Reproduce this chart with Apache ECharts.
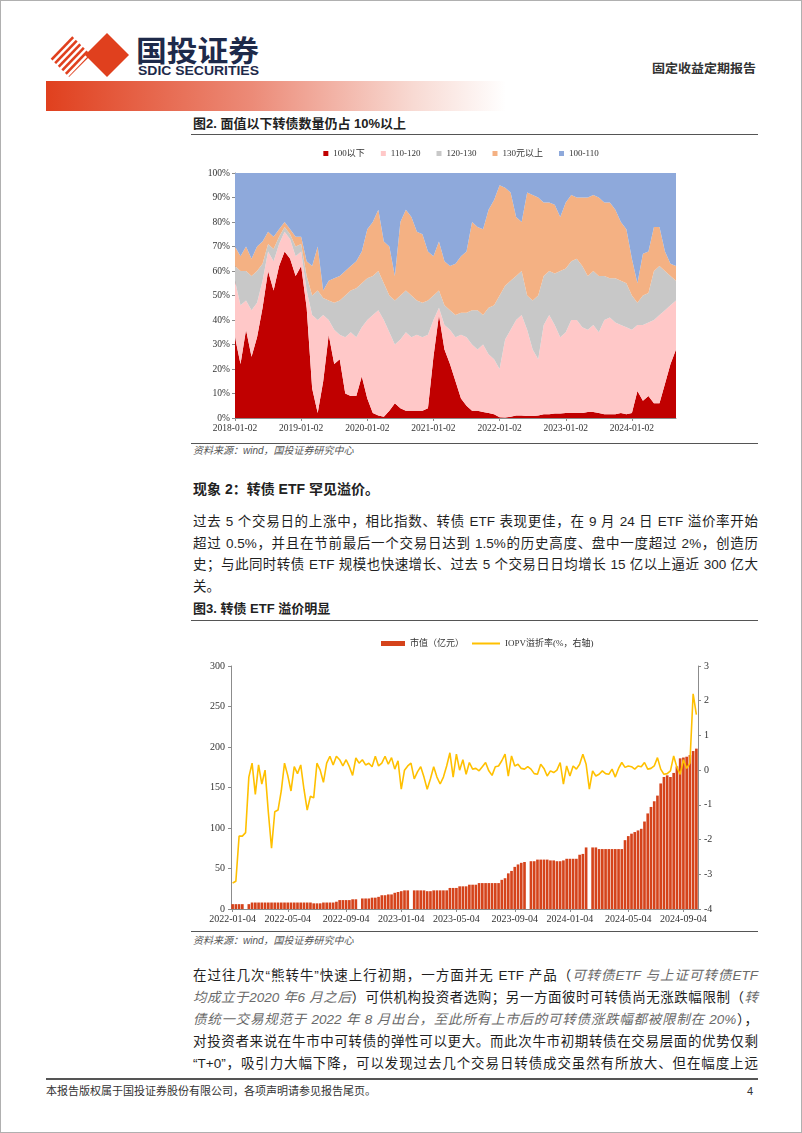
<!DOCTYPE html>
<html><head><meta charset="utf-8">
<script src="https://cdn.jsdelivr.net/npm/echarts@6/dist/echarts.min.js"></script>
<style>
html,body{margin:0;padding:0;background:#fff;}
#page{position:relative;width:802px;height:1133px;overflow:hidden;font-family:'Liberation Sans','Noto Sans CJK SC',sans-serif;color:#1f1f1f;box-sizing:border-box;border:1px solid #b0b0b0;}
.abs{position:absolute;white-space:nowrap;}
.ln{position:absolute;left:192px;width:565px;height:20px;line-height:20px;font-size:13.5px;text-align:justify;text-align-last:justify;white-space:nowrap;color:#1f1f1f;}
.it{font-style:italic;color:#6a6a6a;}
.rule{position:absolute;left:190px;width:567px;height:0;border-top:1.3px solid #555;}
.ttl{position:absolute;left:192px;font-size:13px;font-weight:bold;line-height:16px;color:#222;white-space:nowrap;}
.src{position:absolute;left:192px;font-size:10px;font-style:italic;color:#555;line-height:14px;white-space:nowrap;}
</style></head>
<body><div id="page">
<svg class="abs" style="left:0;top:0" width="802" height="115">
  <defs>
    <linearGradient id="gb" x1="0" x2="1" y1="0" y2="0">
      <stop offset="0" stop-color="#E0401E"/>
      <stop offset="0.45" stop-color="#EC8B78"/>
      <stop offset="0.8" stop-color="#F8DAD3"/>
      <stop offset="1" stop-color="#FFFFFF"/>
    </linearGradient>
    <clipPath id="cl"><polygon points="46,54 68,32 90,54 68,76"/></clipPath>
  </defs>
  <g clip-path="url(#cl)" stroke="#E0401E" stroke-width="2.6">
    <line x1="30" y1="80" x2="80" y2="28"/>
    <line x1="37" y1="80" x2="87" y2="28"/>
    <line x1="44" y1="80" x2="94" y2="28"/>
    <line x1="51" y1="80" x2="101" y2="28"/>
    <line x1="58" y1="80" x2="108" y2="28"/>
    <line x1="65" y1="80" x2="115" y2="28"/>
  </g>
  <polygon points="84,54 106,32 128,54 106,76" fill="#E0401E"/>
  <text x="135" y="61" font-size="29" font-weight="bold" fill="#1E2A4A" font-family="Noto Sans CJK SC" textLength="123" lengthAdjust="spacingAndGlyphs">国投证券</text>
  <text x="137" y="73.5" font-size="13.5" font-weight="bold" fill="#1E2A4A" font-family="Liberation Sans Narrow, Liberation Sans" textLength="121" lengthAdjust="spacingAndGlyphs">SDIC SECURITIES</text>
  <text x="651" y="72" font-size="12.5" font-weight="bold" fill="#333" font-family="Noto Sans CJK SC" textLength="104" lengthAdjust="spacingAndGlyphs">固定收益定期报告</text>
  <rect x="45" y="80" width="460" height="30" fill="url(#gb)"/>
</svg>

<div class="ttl" style="top:115px;">图2. 面值以下转债数量仍占 10%以上</div>
<div class="rule" style="top:133px;"></div>
<div id="c1" class="abs" style="left:170px;top:138px;width:580px;height:300px;"></div>
<div class="rule" style="top:442px;"></div>
<div class="src" style="top:443px;">资料来源：wind，国投证券研究中心</div>

<div class="ttl" style="top:480px;font-size:14px;">现象 2：转债 ETF 罕见溢价。</div>
<div class="ln" style="top:511px;">过去 5 个交易日的上涨中，相比指数、转债 ETF 表现更佳，在 9 月 24 日 ETF 溢价率开始</div>
<div class="ln" style="top:533px;">超过 0.5%，并且在节前最后一个交易日达到 1.5%的历史高度、盘中一度超过 2%，创造历</div>
<div class="ln" style="top:554px;">史；与此同时转债 ETF 规模也快速增长、过去 5 个交易日日均增长 15 亿以上逼近 300 亿大</div>
<div class="ln" style="top:576px;text-align:left;text-align-last:left;">关。</div>

<div class="ttl" style="top:600px;">图3. 转债 ETF 溢价明显</div>
<div class="rule" style="top:619px;"></div>
<div id="c2" class="abs" style="left:170px;top:625px;width:580px;height:303px;"></div>
<div class="rule" style="top:930px;"></div>
<div class="src" style="top:933px;">资料来源：wind，国投证券研究中心</div>

<div class="ln" style="top:965px;">在过往几次“熊转牛”快速上行初期，一方面并无 ETF 产品（<span class="it">可转债ETF 与上证可转债ETF</span></div>
<div class="ln" style="top:987px;"><span class="it">均成立于2020 年6 月之后</span>）可供机构投资者选购；另一方面彼时可转债尚无涨跌幅限制（<span class="it">转</span></div>
<div class="ln" style="top:1009px;"><span class="it">债统一交易规范于 2022 年 8 月出台，至此所有上市后的可转债涨跌幅都被限制在 20%</span>），</div>
<div class="ln" style="top:1031px;">对投资者来说在牛市中可转债的弹性可以更大。而此次牛市初期转债在交易层面的优势仅剩</div>
<div class="ln" style="top:1053px;">“T+0”，吸引力大幅下降，可以发现过去几个交易日转债成交虽然有所放大、但在幅度上远</div>

<div class="abs" style="left:45px;top:1077px;width:712px;border-top:2px solid #555;"></div>
<div class="abs" style="left:45px;top:1083px;font-size:11px;line-height:14px;color:#333;">本报告版权属于国投证券股份有限公司，各项声明请参见报告尾页。</div>
<div class="abs" style="left:746px;top:1083px;font-size:11px;line-height:14px;color:#333;">4</div>
</div>

<script>
// ---------- Chart 1 data (monthly, 2018-01 .. 2024-09), share in % ----------
const seriesNames1 = ['100以下', '110-120', '120-130', '130元以上', '100-110'];
const below100 = [33,22,36,25,33,45,60,52,62,68,65,58, 62,45,12,2,15,34,22,24,10,9,9,17, 8,2,1,0.5,3,6,4,3,3,3,3,4, 25,42,28,22,15,8,5,3,3,2.5,2,1.5, 0.3,0.2,0.5,1,1,0.8,0.8,1,1.5,1.5,1.8,1.8, 2,2,2,2,2.5,2.5,2,1.5,1.5,1.5,2,1.5, 2,11,7,9,6,6,14,22,28];
const r110_120 = [23,24,12,19,14,11,8,12,9,8,8,8, 6,7,30,38,27,6,14,10,23,26,24,20, 32,40,43,39.5,32,24,28,32,30,31,30,30, 15,3,10,14,18,26,28,27,25,27.5,24,22.5, 19.7,31.8,35.5,39,41,35.2,27.2,23,36.5,40.5,36.2,31.2, 33,38,38,35,33.5,35.5,33,38.5,39.5,37.5,36,35.5, 34,27,31,30,34,36,30,24,20];
const r120_130 = [6,14,12,14,13,7,3,5,3,2,2,4, 3,6,8,12,7,8,11,14,17,17,20,18, 17,16,16,15,15,18,18,17,17,14,14,14, 10,7,8,8,9,9,10,14,16,12,19,22, 30,22,20,18,18,14,20,26,20,18,21,27, 26,24,25,25,22,22,23,18,16,18,18,18, 14,9,12,12,20,20,16,12,8];
const above130 = [8,6,10,7,10,9,5,5,3,2,2,4, 3,6,12,18,3,8,10,10,10,10,11,13, 20,22,25,17,20,10,30,33,32,28,28,20, 16,20,18,18,21,23,25,36,34,35,40,43, 45,40,36,24,20,42,43,40,30,28,28,22, 27,27,25,28,32,31,32,30,31,28,24,22, 15,8,17,17,18,16,8,5,6];
const r100_110 = [30,34,30,35,30,28,24,26,23,20,23,26, 26,36,38,30,48,44,43,42,40,38,36,32, 23,20,15,28,30,42,20,15,18,24,25,32, 34,28,36,38,37,34,32,20,22,23,15,11, 5,6,8,18,20,8,9,10,12,12,13,18, 12,9,10,10,10,9,10,12,12,15,20,23, 35,45,33,32,22,22,32,37,38];
const colors1 = ['#C00000', '#FFC8C8', '#C8C8C8', '#F4B183', '#8EA9DB'];
const startYear1 = 2018, nMonths1 = 81;

// ---------- Chart 2 data (weekly, from 2022-01-04) ----------
const seriesNames2 = ['市值（亿元）', 'IOPV溢折率(%，右轴)'];
const etfMarketValue = [6,6,6,6,0,6, 8,8,8,8,8,8,8,8,8,8,8,8,8,8,8,8,8,8,8, 7,7,7, 8,8,8,8, 9, 11,11,11,11,12,12, 0, 13,13,13, 14,14,15, 17,17, 18,18, 20,21, 22,23,23, 0, 23,23,23,23, 22,22, 23,23,23,23,23, 26,26,26, 28,28,28, 30,30,30, 32,32,32,32,32,32,32, 36,38, 44,47, 52,55,57,58, 0, 59,59, 61,61,61,61, 60,60,59,59,60, 62,62,62,62, 67,68, 76, 0, 76,76, 74,74,74,74,74,74,74,74, 85,90,93,95,97,99,108,118,126,133,140,155,163,165,163,168,176,186,187,188,190,195,198];
const iopvPremium = [-3.25,-3.2,-1.9,-1.9,-1.8,-0.2,0.2,-0.7,0.15,-0.4, 0.0,-1.2,-2.25,-1.2,-1.15,-0.6,0.2,-0.15,-0.6,0.1, -0.1,0.15,-0.55,-1.15,-0.75,-0.8,0.2,0.0,-0.35,0.2, 0.4,0.15,0.4,0.3,0.12,0.3,0.1,-0.15,0.35,0.2, 0.3,0.15,0.2,0.1,0.4,0.12,0.2,0.4,0.17,0.36, 0.03,0.27,-0.55,0.0,0.12,0.2,-0.25,-0.05,0.1,-0.2, -0.55,-0.25,0.1,-0.2,-0.4,-0.2,0.12,0.5,-0.2,0.46, 0.0,0.3,-0.12,0.22,0.03,0.05,-0.02,0.1,0.22,-0.02, -0.15,0.1,0.12,0.27,0.46,-0.17,0.41,0.12,0.17,0.05, 0.03,0.1,0.03,-0.1,-0.12,0.17,0.05,-0.17,-0.02,-0.07, 0.0,0.22,-0.4,0.12,-0.17,0.12,0.03,0.17,0.46,0.17, -0.55,-0.02,-0.17,-0.12,-0.02,-0.1,-0.12,0.03,-0.2,0.05, 0.22,0.08,0.12,0.1,0.03,0.12,0.1,0.22,0.03,0.05, 0.12,0.36,0.03,-0.12,-0.1,-0.02,0.41,0.08,-0.12,0.3, 0.05,0.2,2.2,1.6];
const xTickLabels2 = ['2022-01-04','2022-05-04','2022-09-04','2023-01-04','2023-05-04','2023-09-04','2024-01-04','2024-05-04','2024-09-04'];
const weekStart2 = '2022-01-04', lastDate2 = '2024-09-30';
const yLeftTicks2 = {min: 0, max: 300, interval: 50};
const yRightTicks2 = {min: -4, max: 3, interval: 1};

const SERIF = "'Liberation Serif','Noto Sans CJK SC',serif";
const pad = n => (n < 10 ? '0' : '') + n;

// ----- chart 1 -----
const months1 = [];
for (let i = 0; i < nMonths1; i++) {
  const y = startYear1 + Math.floor(i / 12), m = i % 12 + 1;
  months1.push(y + '-' + pad(m) + '-02');
}
const data1 = [below100, r110_120, r120_130, above130, r100_110];
const c1 = echarts.init(document.getElementById('c1'));
c1.setOption({
  animation: false,
  color: colors1,
  legend: {
    top: 5, left: 'center', icon: 'rect', itemWidth: 5, itemHeight: 5, itemGap: 16,
    textStyle: {fontSize: 9, color: '#333', fontFamily: SERIF}, data: seriesNames1
  },
  grid: {left: 64, right: 75, top: 34, bottom: 21},
  xAxis: {
    type: 'category', boundaryGap: false, data: months1,
    axisLine: {lineStyle: {color: '#8c8c8c'}},
    axisTick: {show: true, interval: i => i % 12 === 0, length: 3, lineStyle: {color: '#8c8c8c'}},
    axisLabel: {interval: i => i % 12 === 0, fontSize: 9.5, color: '#333', fontFamily: SERIF, margin: 6}
  },
  yAxis: {
    type: 'value', min: 0, max: 100, interval: 10,
    axisLine: {show: true, lineStyle: {color: '#8c8c8c'}},
    axisTick: {show: true, length: 3, lineStyle: {color: '#8c8c8c'}},
    splitLine: {show: false},
    axisLabel: {formatter: '{value}%', fontSize: 9.5, color: '#333', fontFamily: SERIF, margin: 5}
  },
  series: seriesNames1.map((n, k) => ({
    name: n, type: 'line', stack: 'total', data: data1[k], symbol: 'none',
    lineStyle: {width: 0}, areaStyle: {color: colors1[k], opacity: 1}, itemStyle: {color: colors1[k]}
  }))
});

// ----- chart 2 -----
const weeks2 = [];
const t0 = Date.parse(weekStart2 + 'T00:00:00Z');
for (let i = 0; i < etfMarketValue.length; i++) {
  let s = new Date(t0 + i * 7 * 86400000).toISOString().slice(0, 10);
  if (s > lastDate2) s = lastDate2;
  weeks2.push(s);
}
const tickIdx2 = {};
xTickLabels2.forEach(s => {
  const d = (Date.parse(s + 'T00:00:00Z') - t0) / 86400000;
  tickIdx2[Math.round(d / 7)] = s;
});
const c2 = echarts.init(document.getElementById('c2'));
c2.setOption({
  animation: false,
  legend: [
    {top: 8, left: 205, itemWidth: 24, itemHeight: 5, icon: 'rect',
     textStyle: {fontSize: 9, color: '#333', fontFamily: SERIF}, data: [seriesNames2[0]]},
    {top: 8, left: 296, itemWidth: 28, itemHeight: 2, icon: 'rect',
     textStyle: {fontSize: 9, color: '#333', fontFamily: SERIF}, data: [seriesNames2[1]]}
  ],
  grid: {left: 60, right: 53, top: 40, bottom: 20},
  xAxis: {
    type: 'category', data: weeks2, boundaryGap: true,
    axisLine: {lineStyle: {color: '#8c8c8c'}},
    axisTick: {show: true, alignWithLabel: true, interval: i => tickIdx2[i] !== undefined, length: 3, lineStyle: {color: '#8c8c8c'}},
    axisLabel: {interval: i => tickIdx2[i] !== undefined, formatter: (v, i) => tickIdx2[i], fontSize: 10, color: '#333', fontFamily: SERIF, margin: 5}
  },
  yAxis: [
    {type: 'value', min: yLeftTicks2.min, max: yLeftTicks2.max, interval: yLeftTicks2.interval,
     axisLine: {show: true, lineStyle: {color: '#8c8c8c'}}, axisTick: {show: true, length: 3, lineStyle: {color: '#8c8c8c'}},
     splitLine: {show: false}, axisLabel: {fontSize: 10, color: '#333', fontFamily: SERIF, margin: 6}},
    {type: 'value', min: yRightTicks2.min, max: yRightTicks2.max, interval: yRightTicks2.interval, position: 'right',
     axisLine: {show: true, lineStyle: {color: '#8c8c8c'}}, axisTick: {show: true, length: 3, lineStyle: {color: '#8c8c8c'}},
     splitLine: {show: false}, axisLabel: {fontSize: 10, color: '#333', fontFamily: SERIF, margin: 6}}
  ],
  series: [
    {name: seriesNames2[0], type: 'bar', data: etfMarketValue, barCategoryGap: '18%', itemStyle: {color: '#D5431B'}},
    {name: seriesNames2[1], type: 'line', yAxisIndex: 1, data: iopvPremium, symbol: 'none',
     lineStyle: {color: '#FFC000', width: 1.6}, itemStyle: {color: '#FFC000'}}
  ]
});
</script>
</body></html>
